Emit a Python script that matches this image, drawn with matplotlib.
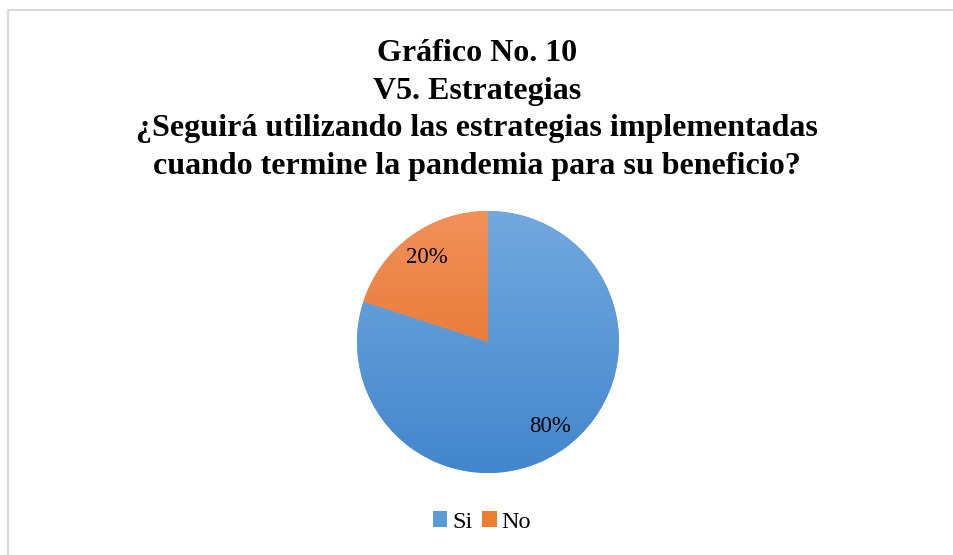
import numpy as np
import matplotlib
matplotlib.use('Agg')
import matplotlib.pyplot as plt
from matplotlib.colors import LinearSegmentedColormap
from matplotlib.patches import Rectangle

plt.rcParams['font.family'] = ['Liberation Serif', 'DejaVu Serif']

# datos
categorias = ['Si', 'No']
valores = [80, 20]
colores_claro = ['#72a9de', '#f1915b']
colores_oscuro = ['#4386cd', '#e4691b']
colores_leyenda = ['#5b9bd5', '#ed7d31']
titulo = ('Gráfico No. 10\nV5. Estrategias\n'
          '¿Seguirá utilizando las estrategias implementadas\n'
          'cuando termine la pandemia para su beneficio?')

W, H = 954, 555
fig = plt.figure(figsize=(W / 100, H / 100), dpi=100)
fig.patch.set_facecolor('white')

# marco del gráfico (se sale por la derecha y abajo)
fig.add_artist(Rectangle((8 / W, -0.05), 1.1, 1 - 10 / H + 0.05, transform=fig.transFigure,
                         fill=False, edgecolor='#d9d9d9', linewidth=1.5))

fig.text(0.5, 1 - 110 / H, titulo, ha='center', va='center', fontsize=23,
         fontweight='bold', linespacing=1.38)

# pastel
cx, cy, r = 488, 342, 131
ax = fig.add_axes([(cx - r) / W, 1 - (cy + r) / H, 2 * r / W, 2 * r / H])
wedges, _ = ax.pie(valores, startangle=90, counterclock=False, radius=1,
                   colors=colores_leyenda, wedgeprops=dict(linewidth=0))
grad = np.linspace(1, 0, 256).reshape(-1, 1)
for w, c1, c2 in zip(wedges, colores_claro, colores_oscuro):
    cmap = LinearSegmentedColormap.from_list('g', [c2, c1])
    im = ax.imshow(grad, extent=(-1, 1, -1, 1), cmap=cmap, aspect='auto', zorder=2)
    im.set_clip_path(w)

# etiquetas de porcentaje
ang = 90
for v in valores:
    mid = np.deg2rad(ang - v * 3.6 / 2)
    ax.text(0.8 * np.cos(mid), 0.8 * np.sin(mid), f'{v}%', ha='center', va='center',
            fontsize=16.5, zorder=3)
    ang -= v * 3.6
ax.set_xlim(-1, 1)
ax.set_ylim(-1, 1)
ax.axis('off')

# leyenda
handles = [Rectangle((0, 0), 1, 1, facecolor=c, edgecolor='none') for c in colores_leyenda]
fig.legend(handles, categorias, loc='center', bbox_to_anchor=(0.505, 1 - 522 / H), ncol=2,
           frameon=False, fontsize=17.5, handlelength=0.6, handleheight=0.6,
           handletextpad=0.2, columnspacing=0.4)

fig.savefig('out.png', dpi=100)
